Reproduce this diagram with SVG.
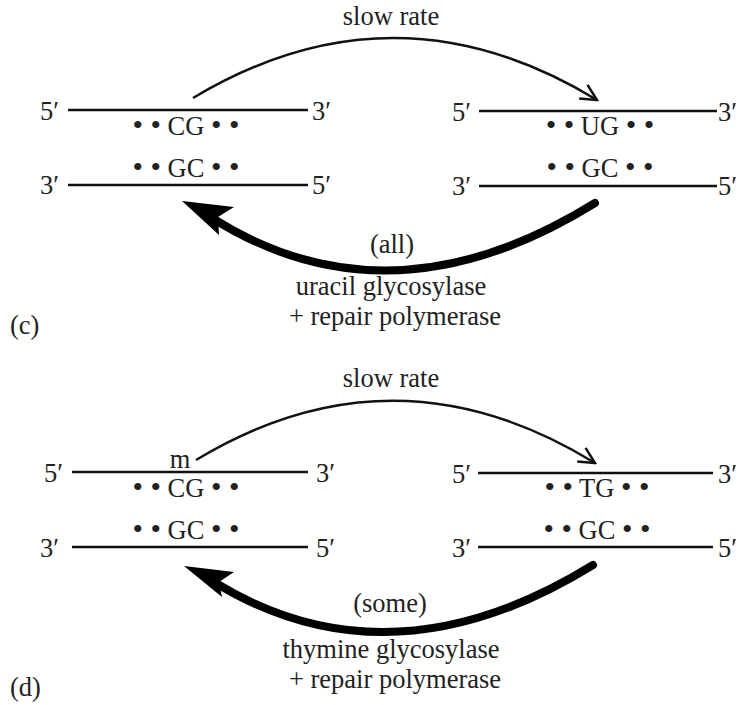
<svg xmlns="http://www.w3.org/2000/svg" width="740" height="705" viewBox="0 0 740 705">
<defs>
<style>
text{font-family:"Liberation Serif","Times New Roman",serif;font-size:26.5px;fill:#222}
.m{text-anchor:middle}
.b{font-size:30px}
.strand{stroke:#111;stroke-width:2.5;fill:none}
.thin{stroke:#111;stroke-width:2.5;fill:none}
.thick{stroke:#000;stroke-width:8;fill:none;stroke-linecap:round}
.head{fill:#000}
</style>
<marker id="open" viewBox="0 0 20 20" refX="18" refY="10" markerWidth="20" markerHeight="20" markerUnits="userSpaceOnUse" orient="auto">
<path d="M2,2 L18,10 L2,18" fill="none" stroke="#111" stroke-width="2.5"/>
</marker>
</defs>
<rect width="740" height="705" fill="#fff"/>

<g id="c-left-dna">
<line class="strand" x1="68" y1="110" x2="308" y2="110"/>
<line class="strand" x1="68" y1="185" x2="308" y2="185"/>
<text x="40" y="120">5′</text><text x="312" y="120">3′</text>
<text x="40" y="194">3′</text><text x="312" y="194">5′</text>
<text class="m" x="186" y="135"><tspan class="b">• •</tspan> CG <tspan class="b">• •</tspan></text>
<text class="m" x="186" y="177"><tspan class="b">• •</tspan> GC <tspan class="b">• •</tspan></text>
</g>
<g id="c-right-dna">
<line class="strand" x1="479" y1="111" x2="717" y2="111"/>
<line class="strand" x1="479" y1="186" x2="717" y2="186"/>
<text x="452" y="121">5′</text><text x="718" y="121">3′</text>
<text x="452" y="195">3′</text><text x="718" y="195">5′</text>
<text class="m" x="600" y="135"><tspan class="b">• •</tspan> UG <tspan class="b">• •</tspan></text>
<text class="m" x="600" y="177"><tspan class="b">• •</tspan> GC <tspan class="b">• •</tspan></text>
</g>
<g id="c-labels">
<text class="m" x="391" y="25">slow rate</text>
<text class="m" x="392" y="253">(all)</text>
<text class="m" x="391" y="295">uracil glycosylase</text>
<text class="m" x="395" y="325">+ repair polymerase</text>
<text x="10" y="334">(c)</text>
</g>

<g id="d-left-dna">
<line class="strand" x1="72" y1="472" x2="308" y2="472"/>
<line class="strand" x1="72" y1="547" x2="308" y2="547"/>
<text x="44" y="482">5′</text><text x="316" y="482">3′</text>
<text x="40" y="557">3′</text><text x="316" y="557">5′</text>
<text class="m" x="180" y="468">m</text>
<text class="m" x="186" y="497"><tspan class="b">• •</tspan> CG <tspan class="b">• •</tspan></text>
<text class="m" x="186" y="539"><tspan class="b">• •</tspan> GC <tspan class="b">• •</tspan></text>
</g>
<g id="d-right-dna">
<line class="strand" x1="478" y1="473" x2="713" y2="473"/>
<line class="strand" x1="478" y1="547" x2="713" y2="547"/>
<text x="452" y="483">5′</text><text x="718" y="483">3′</text>
<text x="452" y="557">3′</text><text x="718" y="557">5′</text>
<text class="m" x="597" y="497"><tspan class="b">• •</tspan> TG <tspan class="b">• •</tspan></text>
<text class="m" x="597" y="539"><tspan class="b">• •</tspan> GC <tspan class="b">• •</tspan></text>
</g>
<g id="d-labels">
<text class="m" x="391" y="387">slow rate</text>
<text class="m" x="390" y="612">(some)</text>
<text class="m" x="391" y="658">thymine glycosylase</text>
<text class="m" x="395" y="688">+ repair polymerase</text>
<text x="10" y="696">(d)</text>
</g>

<g id="connectors">
<path class="thin" d="M193,98 Q395,-23 597,100" marker-end="url(#open)"/>
<path class="thick" d="M595,203 Q390,330 212,218"/>
<path class="head" d="M182,201 L234,207 L218,217 L219,235 Z"/>
<path class="thin" d="M196,460 Q395,340 595,463" marker-end="url(#open)"/>
<path class="thick" d="M593,565 Q390,690 214,582"/>
<path class="head" d="M184,566 L234,572 L219,582 L222,597 Z"/>
</g>
</svg>
